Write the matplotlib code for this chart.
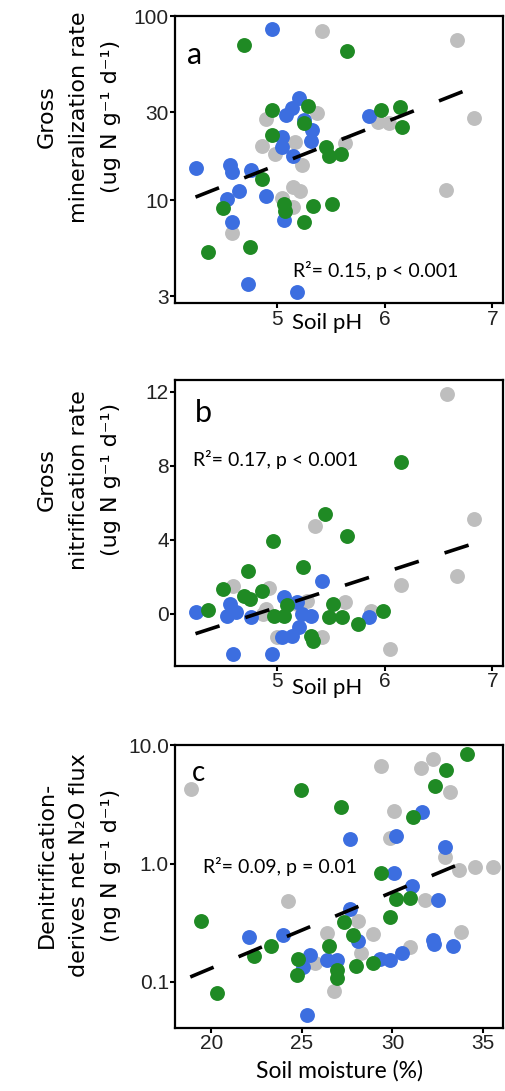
import matplotlib
matplotlib.use("Agg")
import matplotlib.pyplot as plt
from matplotlib.ticker import NullLocator
from matplotlib import font_manager
import numpy as np

# ---- data ----
# panel a: soil pH vs gross mineralization rate
ph_a_grey = [5.42, 6.67, 6.83, 6.57, 4.90, 5.37, 4.86, 4.98, 5.17, 5.23, 5.63, 6.04, 5.15, 5.21, 5.04, 5.15, 4.58, 5.94]
min_a_grey = [83, 74, 27.9, 11.4, 27.6, 29.8, 19.7, 17.8, 20.8, 15.5, 20.4, 26.2, 11.8, 11.2, 10.3, 9.2, 6.6, 26.8]
ph_a_blue = [4.95, 4.24, 4.56, 4.58, 4.76, 4.64, 4.53, 4.90, 4.58, 4.73, 5.18, 5.06, 5.20, 5.14, 5.08, 5.04, 5.04, 5.32, 5.31, 5.15, 5.85, 5.25]
min_a_blue = [85, 14.9, 15.5, 14.3, 14.6, 11.2, 10.1, 10.5, 7.6, 3.5, 3.16, 7.8, 36, 31.7, 29.1, 22.2, 19.5, 24.2, 20.9, 17.3, 28.8, 27.4]
ph_a_green = [4.69, 5.65, 4.95, 5.29, 5.25, 4.95, 5.45, 5.48, 5.59, 4.86, 5.97, 6.14, 6.16, 4.50, 5.06, 5.07, 5.33, 5.51, 5.25, 4.75, 4.36]
min_a_green = [70, 65, 31, 32.7, 26.2, 22.6, 19.5, 17.3, 17.8, 13, 31, 32, 25, 9.1, 9.5, 8.7, 9.3, 9.5, 7.6, 5.6, 5.2]
fit_a_x = [4.24, 6.82]
fit_a_y = [10.4, 41.0]

# panel b: soil pH vs gross nitrification rate
ph_b_grey = [6.58, 6.83, 6.67, 6.15, 6.05, 5.35, 5.63, 5.42, 4.59, 4.92, 5.00, 4.87, 5.18, 5.28, 5.87, 4.90]
nit_b_grey = [11.9, 5.1, 2.05, 1.57, -1.9, 4.76, 0.61, -1.28, 1.51, 1.39, -1.28, 0.0, 0.52, 0.7, 0.16, 0.25]
ph_b_blue = [5.42, 4.24, 4.53, 4.56, 4.62, 4.76, 5.06, 5.18, 5.23, 5.31, 5.85, 5.04, 5.14, 5.20, 4.59, 4.95]
nit_b_blue = [1.75, 0.07, -0.1, 0.52, 0.07, -0.2, 0.92, 0.61, 0.0, -0.1, -0.2, -1.28, -1.19, -0.74, -2.18, -2.18]
ph_b_green = [6.15, 5.44, 5.65, 4.96, 5.24, 4.73, 4.50, 4.36, 4.69, 4.75, 4.86, 5.09, 5.52, 4.97, 5.06, 5.48, 5.60, 5.75, 5.98, 5.31, 5.33]
nit_b_green = [8.2, 5.4, 4.2, 3.95, 2.54, 2.32, 1.33, 0.2, 0.97, 0.79, 1.24, 0.49, 0.52, -0.1, -0.1, -0.2, -0.16, -0.56, 0.16, -1.19, -1.5]
fit_b_x = [4.24, 6.82]
fit_b_y = [-1.08, 3.78]

# panel c: soil moisture vs denitrification N2O flux
sm_c_grey = [18.9, 29.39, 31.6, 32.24, 33.19, 30.07, 29.85, 32.88, 33.7, 34.53, 35.54, 24.26, 31.78, 28.11, 26.37, 28.9, 28.29, 30.99, 33.8, 25.72, 26.77]
n2o_c_grey = [4.3, 6.65, 6.35, 7.57, 4.04, 2.77, 1.63, 1.14, 0.89, 0.94, 0.93, 0.48, 0.49, 0.33, 0.26, 0.254, 0.174, 0.196, 0.266, 0.144, 0.083]
sm_c_blue = [31.63, 30.22, 27.65, 32.88, 30.07, 31.10, 32.52, 27.65, 22.06, 23.98, 28.11, 25.45, 26.37, 26.92, 25.08, 29.3, 29.89, 30.5, 32.24, 32.27, 33.34, 25.3]
n2o_c_blue = [2.73, 1.70, 1.60, 1.37, 0.83, 0.64, 0.49, 0.41, 0.24, 0.25, 0.22, 0.169, 0.153, 0.153, 0.133, 0.155, 0.153, 0.177, 0.226, 0.21, 0.20, 0.053]
sm_c_green = [34.11, 32.97, 32.33, 24.94, 27.14, 31.14, 29.34, 30.17, 30.99, 29.89, 27.34, 19.43, 27.8, 23.28, 22.37, 26.51, 24.81, 24.72, 26.92, 26.92, 27.98, 28.9, 20.31]
n2o_c_green = [8.4, 6.2, 4.5, 4.17, 3.02, 2.45, 0.83, 0.50, 0.51, 0.35, 0.32, 0.33, 0.25, 0.20, 0.166, 0.20, 0.155, 0.115, 0.126, 0.107, 0.136, 0.144, 0.080]
fit_c_x = [18.84, 34.47]
fit_c_y = [0.110, 1.11]

grey = "#bebebe"
blue = "#3c6ee0"
green = "#1f8a24"

# narrow font for the y labels, whichever is there
names = {f.name for f in font_manager.fontManager.ttflist}
label_font = [n for n in ["Liberation Sans Narrow", "DejaVu Sans Condensed"] if n in names] + ["DejaVu Sans"]
note_font = ["Lato", "DejaVu Sans"]
tick_font = ["Liberation Sans", "DejaVu Sans"]
label_size = 18 if len(label_font) > 1 else 16

fig = plt.figure(figsize=(5.06, 10.91), dpi=100)


def style(ax):
    for s in ax.spines.values():
        s.set_linewidth(1.6)
        s.set_color("black")
    ax.tick_params(direction="out", length=3.5, width=1.5, labelsize=15,
                   labelcolor="#222222", pad=1)
    for t in ax.get_xticklabels() + ax.get_yticklabels():
        t.set_family(tick_font)


def points(ax, groups, fx, fy):
    for x, y, c in groups:
        ax.scatter(x, y, s=115, color=c, linewidths=0, zorder=2)
    ax.plot(fx, fy, color="black", lw=2.6, dashes=(7, 7.5), zorder=3,
            dash_capstyle="butt")


def ylab(ax, text, y):
    ax.set_ylabel(text, fontsize=label_size, family=label_font, linespacing=1.75)
    ax.yaxis.set_label_coords(-0.165, y)


# ---- panel a ----
ax1 = fig.add_axes([0.346, 0.722, 0.648, 0.263])
points(ax1, [(ph_a_grey, min_a_grey, grey), (ph_a_blue, min_a_blue, blue),
             (ph_a_green, min_a_green, green)], fit_a_x, fit_a_y)
ax1.set_yscale("log")
ax1.set_xlim(4.05, 7.1)
ax1.set_ylim(2.75, 100)
ax1.set_xticks([5, 6, 7])
ax1.set_yticks([3, 10, 30, 100])
ax1.set_yticklabels(["3", "10", "30", "100"])
ax1.yaxis.set_minor_locator(NullLocator())
style(ax1)
ax1.set_xlabel("Soil pH", fontsize=16, family=note_font)
ax1.xaxis.set_label_coords(0.463, -0.035)
ylab(ax1, "Gross\nmineralization rate\n(ug N g⁻¹ d⁻¹)", 0.65)
ax1.text(0.035, 0.864, "a", transform=ax1.transAxes, fontsize=22,
         va="center", family=note_font)
ax1.text(0.36, 0.115, "R²= 0.15, p < 0.001", transform=ax1.transAxes,
         fontsize=14, va="center", family=note_font)

# ---- panel b ----
ax2 = fig.add_axes([0.346, 0.390, 0.648, 0.262])
points(ax2, [(ph_b_grey, nit_b_grey, grey), (ph_b_blue, nit_b_blue, blue),
             (ph_b_green, nit_b_green, green)], fit_b_x, fit_b_y)
ax2.set_xlim(4.05, 7.1)
ax2.set_ylim(-2.8, 12.65)
ax2.set_xticks([5, 6, 7])
ax2.set_yticks([0, 4, 8, 12])
style(ax2)
ax2.set_xlabel("Soil pH", fontsize=16, family=note_font)
ax2.xaxis.set_label_coords(0.463, -0.045)
ylab(ax2, "Gross\nnitrification rate\n(ug N g⁻¹ d⁻¹)", 0.65)
ax2.text(0.06, 0.884, "b", transform=ax2.transAxes, fontsize=22,
         va="center", family=note_font)
ax2.text(0.055, 0.72, "R²= 0.17, p < 0.001", transform=ax2.transAxes,
         fontsize=14, va="center", family=note_font)

# ---- panel c ----
ax3 = fig.add_axes([0.346, 0.058, 0.648, 0.259])
points(ax3, [(sm_c_grey, n2o_c_grey, grey), (sm_c_blue, n2o_c_blue, blue),
             (sm_c_green, n2o_c_green, green)], fit_c_x, fit_c_y)
ax3.set_yscale("log")
ax3.set_xlim(18.0, 36.1)
ax3.set_ylim(0.041, 10)
ax3.set_xticks([20, 25, 30, 35])
ax3.set_yticks([0.1, 1, 10])
ax3.set_yticklabels(["0.1", "1.0", "10.0"])
ax3.yaxis.set_minor_locator(NullLocator())
style(ax3)
ax3.set_xlabel("Soil moisture (%)", fontsize=16.5, family=note_font)
ax3.xaxis.set_label_coords(0.50, -0.115)
ylab(ax3, "Denitrification-\nderives net N₂O flux\n(ng N g⁻¹ d⁻¹)", 0.576)
ax3.text(0.052, 0.90, "c", transform=ax3.transAxes, fontsize=20,
         va="center", family=note_font)
ax3.text(0.085, 0.57, "R²= 0.09, p = 0.01", transform=ax3.transAxes,
         fontsize=14, va="center", family=note_font)

fig.savefig("out.png", dpi=100)
